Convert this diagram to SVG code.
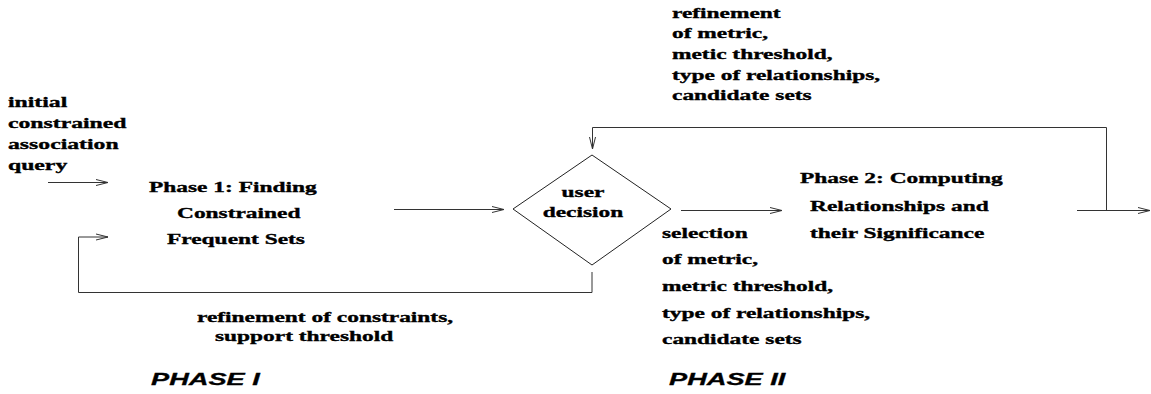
<svg xmlns="http://www.w3.org/2000/svg" width="1151" height="394" viewBox="0 0 1151 394">
<style>
.t{font-family:"Liberation Serif","Times New Roman",serif;font-weight:bold;font-size:15px;fill:#000;stroke:#000;stroke-width:0.35}
.p{font-family:"Liberation Sans",Arial,sans-serif;font-weight:bold;font-style:italic;font-size:17px;fill:#000;stroke:#000;stroke-width:0.3}
.c{fill:none;stroke:#333;stroke-width:1}
.d{fill:#fff;stroke:#222;stroke-width:1}
</style>
<defs>
<marker id="ah" markerUnits="userSpaceOnUse" markerWidth="14" markerHeight="8" refX="13" refY="4" orient="auto">
<path d="M1,1 L13,4 L1,7" fill="none" stroke="#333" stroke-width="1"/>
</marker>
</defs>
<g id="connectors">
<path class="c" d="M48,182.5 L108,182.5" marker-end="url(#ah)"/>
<path class="c" d="M592,272 L592,292.5 L78.5,292.5 L78.5,237 L108,237" marker-end="url(#ah)"/>
<path class="c" d="M394,209.5 L504,209.5" marker-end="url(#ah)"/>
<path class="c" d="M681,210.5 L782,210.5" marker-end="url(#ah)"/>
<path class="c" d="M1077,210.5 L1150,210.5" marker-end="url(#ah)"/>
<path class="c" d="M1106.5,210 L1106.5,127.5 L592.5,127.5 L592.5,149" marker-end="url(#ah)"/>
</g>
<g id="label-initial">
<text class="t" transform="translate(8,107) scale(1.58,1)">initial</text>
<text class="t" transform="translate(8,128) scale(1.58,1)">constrained</text>
<text class="t" transform="translate(8,149) scale(1.58,1)">association</text>
<text class="t" transform="translate(8,170) scale(1.58,1)">query</text>
</g>
<g id="phase1">
<text class="t" transform="translate(149,191.5) scale(1.56,1)">Phase 1: Finding</text>
<text class="t" transform="translate(177,218) scale(1.56,1)">Constrained</text>
<text class="t" transform="translate(167,243.5) scale(1.56,1)">Frequent Sets</text>
</g>
<g id="decision">
<polygon class="d" points="513,209 592,155 671,209 592,265"/>
<text class="t" text-anchor="middle" transform="translate(583,196.5) scale(1.56,1)">user</text>
<text class="t" text-anchor="middle" transform="translate(583,216.5) scale(1.56,1)">decision</text>
</g>
<g id="phase2">
<text class="t" transform="translate(800,183) scale(1.56,1)">Phase 2: Computing</text>
<text class="t" transform="translate(810,210.5) scale(1.56,1)">Relationships and</text>
<text class="t" transform="translate(810,238) scale(1.56,1)">their Significance</text>
</g>
<g id="label-refinement-top">
<text class="t" transform="translate(672,17.5) scale(1.56,1)">refinement</text>
<text class="t" transform="translate(672,38.2) scale(1.56,1)">of metric,</text>
<text class="t" transform="translate(672,58.9) scale(1.56,1)">metic threshold,</text>
<text class="t" transform="translate(672,79.6) scale(1.56,1)">type of relationships,</text>
<text class="t" transform="translate(672,100.3) scale(1.56,1)">candidate sets</text>
</g>
<g id="label-selection">
<text class="t" transform="translate(662,237.5) scale(1.56,1)">selection</text>
<text class="t" transform="translate(662,264) scale(1.56,1)">of metric,</text>
<text class="t" transform="translate(662,290.7) scale(1.56,1)">metric threshold,</text>
<text class="t" transform="translate(662,317.5) scale(1.56,1)">type of relationships,</text>
<text class="t" transform="translate(662,344.3) scale(1.56,1)">candidate sets</text>
</g>
<g id="label-refinement-bottom">
<text class="t" transform="translate(197,321.5) scale(1.56,1)">refinement of constraints,</text>
<text class="t" transform="translate(215,341) scale(1.56,1)">support threshold</text>
</g>
<g id="phase-labels">
<text class="p" transform="translate(151,385) scale(1.6,1)">PHASE I</text>
<text class="p" transform="translate(669,385) scale(1.6,1)">PHASE II</text>
</g>
</svg>
